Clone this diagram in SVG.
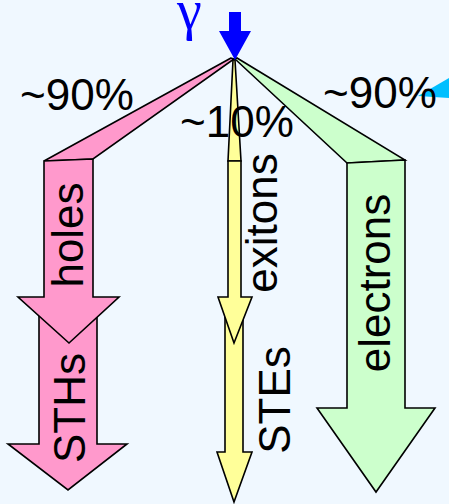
<svg xmlns="http://www.w3.org/2000/svg" width="449" height="504" viewBox="0 0 449 504">
<style>
.a{stroke:#000;stroke-width:1.6;stroke-linejoin:miter}
.pk{fill:#ff99cc}
.yl{fill:#ffff99}
.gr{fill:#ccffcc}
.t{font-family:"Liberation Sans",Arial,sans-serif;font-size:44px;fill:#000}
</style>
<rect width="449" height="504" fill="#f0f8ff"/>
<polygon points="418,96 449,78 449,98" fill="#00bfff"/>
<g id="connectors">
<polygon class="a pk" points="231,58 44,161 93,159 234,59"/>
<polygon class="a yl" points="233,60 228,161 241,161 235,60"/>
<polygon class="a gr" points="235,59 347,163 405,160 237,58"/>
</g>
<g id="gamma">
<text x="177" y="29" font-family="'Liberation Serif','Times New Roman',serif" font-size="56" fill="#0000ff">γ</text>
<polygon points="229,12 241,12 241,31 251,31 235,60 219,31 229,31" fill="#0000ff"/>
</g>
<g id="STHs">
<polygon class="a pk" points="39,300 97,300 97,444 127,444 68,490 8,444 39,444"/>
<text class="t" text-anchor="middle" transform="translate(85,408) rotate(-90)">STHs</text>
</g>
<g id="holes">
<polygon class="a pk" points="44,161 93,159 93,297 119,297 69,343 18,297 44,297"/>
<text class="t" text-anchor="middle" transform="translate(83,235) rotate(-90)">holes</text>
</g>
<g id="STEs">
<polygon class="a yl" points="225,300 243,300 243,452 252,452 234,502 217,452 225,452"/>
<text class="t" text-anchor="middle" transform="translate(290,400) rotate(-90)">STEs</text>
</g>
<g id="exitons">
<polygon class="a yl" points="228,161 241,161 241,297 252,297 234,343 218,297 228,297"/>
<text class="t" text-anchor="middle" transform="translate(277,223) rotate(-90)">exitons</text>
</g>
<g id="electrons">
<polygon class="a gr" points="347,163 405,160 405,408 435,408 376,492 317,408 347,408"/>
<text class="t" text-anchor="middle" transform="translate(390,283) rotate(-90)">electrons</text>
</g>
<g id="labels">
<text class="t" x="20" y="110">~90%</text>
<text class="t" x="180" y="137">~10%</text>
<text class="t" x="323" y="108">~90%</text>
</g>
</svg>
